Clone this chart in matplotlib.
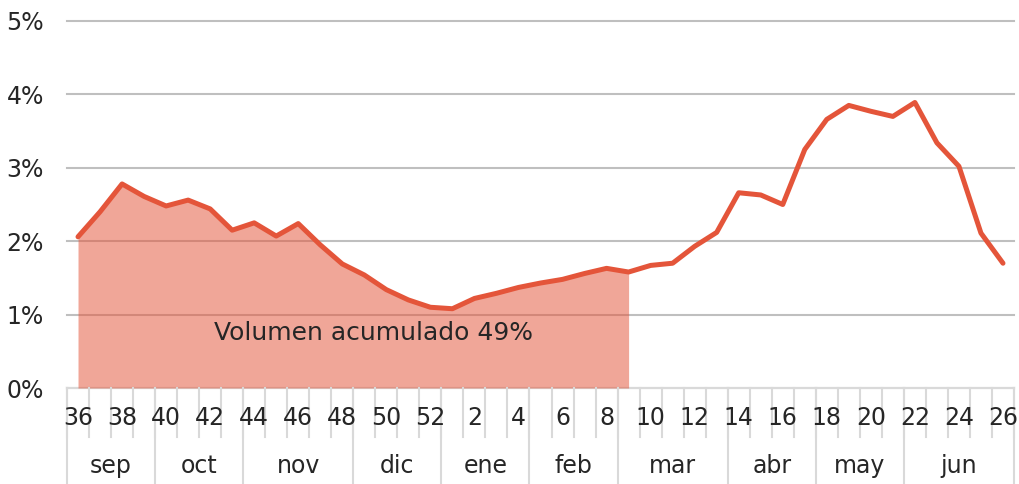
import numpy as np
import matplotlib
matplotlib.use('Agg')
from matplotlib import pyplot as plt

plt.rcParams['font.family'] = ['DejaVu Sans']

# semanas 36..52 y 1..26
weeks = list(range(36, 53)) + list(range(1, 27))
values = [2.06, 2.40, 2.78, 2.61, 2.48, 2.56, 2.44, 2.15, 2.25, 2.07,
          2.24, 1.95, 1.69, 1.54, 1.34, 1.20, 1.10, 1.08, 1.22, 1.29,
          1.37, 1.43, 1.48, 1.56, 1.63, 1.58, 1.67, 1.70, 1.93, 2.12,
          2.66, 2.63, 2.50, 3.25, 3.66, 3.85, 3.77, 3.70, 3.89, 3.34,
          3.02, 2.11, 1.70]
months = ['sep', 'oct', 'nov', 'dic', 'ene', 'feb', 'mar', 'abr', 'may', 'jun']
month_weeks = [4, 4, 5, 4, 4, 4, 5, 4, 4, 5]
fill_until = 9  # semana hasta la que se acumula el volumen
label = 'Volumen acumulado 49%'

line_color = '#E4553A'
text_color = '#262626'
sep_color = '#D9D9D9'

x = np.arange(len(weeks))
y = np.array(values)
n_fill = weeks.index(fill_until) + 1

fig = plt.figure(figsize=(10.19, 4.84), dpi=100)
ax = fig.add_axes([67 / 1019, 1 - 388 / 484, (1014 - 67) / 1019, (388 - 21) / 484])

ax.set_ylim(0, 5)
ax.set_xlim(-0.5, len(weeks) - 0.5)
ax.set_yticks(range(0, 6))
ax.set_yticklabels([f'{v}%' for v in range(0, 6)], fontsize=17, color=text_color)
ax.tick_params(axis='y', length=0, pad=16.5)
ax.set_xticks([])
for s in ax.spines.values():
    s.set_visible(False)
ax.grid(axis='y', color='#BFBFBF', linewidth=1.5)
for gl in ax.yaxis.get_gridlines():
    gl.set_clip_on(False)
ax.set_axisbelow(True)

ax.fill_between(x[:n_fill], y[:n_fill], color=line_color, alpha=0.52, linewidth=0, zorder=2)
ax.plot(x, y, color=line_color, linewidth=3.6, solid_joinstyle='round',
        solid_capstyle='round', zorder=3)

ax.text(13.4, 0.75, label, fontsize=18, color=text_color, ha='center', va='center', zorder=4)

# eje x de dos niveles
tr = ax.get_xaxis_transform()
ax.plot([-0.5, len(weeks) - 0.5], [0, 0], color=sep_color, linewidth=1.5,
        transform=tr, clip_on=False, zorder=1)
for b in np.arange(-0.5, len(weeks), 1.0):
    ax.plot([b, b], [0, -0.1335], color=sep_color, linewidth=1.5, transform=tr, clip_on=False)
for i in range(0, len(weeks), 2):
    ax.text(i, -0.082, str(weeks[i]), transform=tr, ha='center', va='center',
            fontsize=17, color=text_color)

start = -0.5
for m, n in zip(months, month_weeks):
    ax.plot([start, start], [0, -0.27], color=sep_color, linewidth=1.5, transform=tr, clip_on=False)
    ax.text(start + n / 2, -0.2125, m, transform=tr, ha='center', va='center',
            fontsize=17, color=text_color)
    start += n
ax.plot([start, start], [0, -0.27], color=sep_color, linewidth=1.5, transform=tr, clip_on=False)

fig.savefig('out.png', dpi=100)
